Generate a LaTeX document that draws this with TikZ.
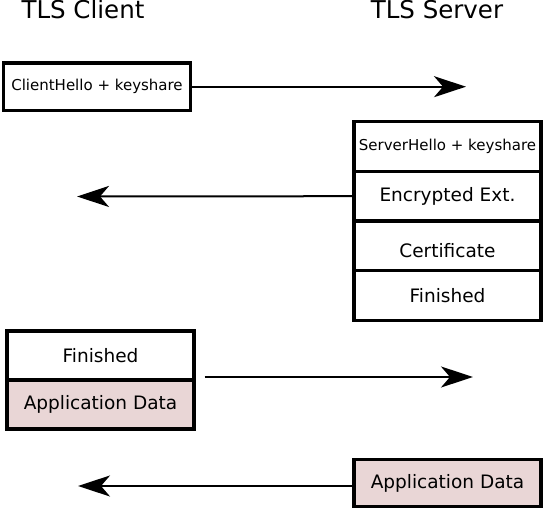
\documentclass[tikz,border=0pt]{standalone}
\usepackage{fontspec}
\setmainfont{DejaVu Sans}
\usepackage{tikz}
\usetikzlibrary{matrix,arrows.meta}

\definecolor{appdata}{RGB}{233,214,214}
\tikzset{
    peertext/.style={anchor=base, font=\fontsize{24.5pt}{29pt}\selectfont},
    msgbox/.style={draw, line width=3.2pt, minimum width=187pt, minimum height=48pt, inner sep=0pt, anchor=center, font=\fontsize{18.5pt}{22pt}\selectfont},
    hellotext/.style={font=\fontsize{15pt}{18pt}\selectfont},
    msgarrow/.style={line width=2pt, -{Stealth[length=32pt,width=21pt,inset=9pt]}}
}

\begin{document}
\begin{tikzpicture}[x=1pt, y=-1pt]
    \useasboundingbox (0,0) rectangle (544,510);

    \node[peertext] (client) at (83,19) {TLS Client};
    \node[peertext] (server) at (437,19) {TLS Server};

    % client hello
    \node[msgbox, hellotext, minimum height=47.5pt] (hello) at (97,86.7) {ClientHello + keyshare};
    \coordinate (hellotip) at (466,86.7);
    \draw[msgarrow] (hello.east) -- (hellotip);

    % server flight
    \matrix[matrix of nodes, line width=3.2pt, nodes={msgbox, minimum height=49.6pt}, row sep=-\pgflinewidth] (srv) at (447.5,221) {
        |[hellotext]| ServerHello + keyshare \\
        Encrypted Ext. \\
        |[text height=23pt, text depth=0pt]| Certificate \\
        Finished \\
    };
    \coordinate (srvtip) at (77,196.5);
    \draw[msgarrow] (srv-2-1.west) -- (srvtip);

    % client finished
    \matrix[matrix of nodes, line width=3.2pt, nodes={msgbox, minimum height=49pt}, row sep=-\pgflinewidth] (cli) at (100.5,380) {
        Finished \\
        |[fill=appdata]| Application Data \\
    };
    \coordinate (clitip) at (473,377);
    \draw[msgarrow, shorten <=4pt] (cli.east |- clitip) -- (clitip);

    % server data
    \node[msgbox, fill=appdata, minimum height=47pt] (srvdata) at (447.5,483) {Application Data};
    \coordinate (datatip) at (78,486);
    \draw[msgarrow] (srvdata.west |- datatip) -- (datatip);
\end{tikzpicture}
\end{document}
